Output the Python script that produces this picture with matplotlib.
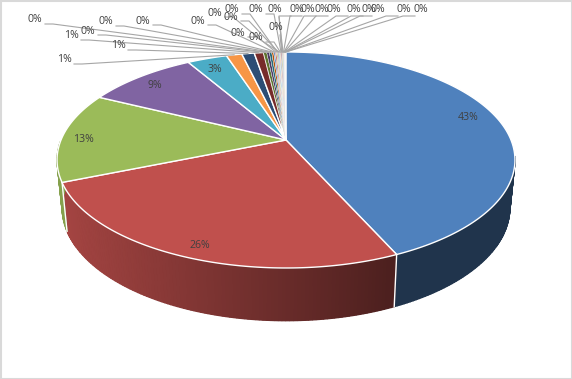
import numpy as np
import matplotlib
matplotlib.use("Agg")
import matplotlib.pyplot as plt

plt.rcParams["font.family"] = ["Open Sans", "DejaVu Sans"]

# share of each slice, clockwise from 12 o'clock
values = [43.25, 25.5, 13.45, 9.3, 3.36, 1.31, 1.05, 0.78, 0.27, 0.22, 0.2, 0.16, 0.13,
          0.12, 0.1, 0.09, 0.08, 0.07, 0.06, 0.06, 0.05, 0.05, 0.04, 0.04, 0.03, 0.03,
          0.03, 0.02, 0.02, 0.02]
labels = ["43%", "26%", "13%", "9%", "3%", "1%", "1%", "1%"] + ["0%"] * 22
colors = ["#4F81BD", "#C0504D", "#9BBB59", "#8064A2", "#4BACC6", "#F79646",
          "#2C4D75", "#772C2A", "#5F7530", "#4D3B62", "#276A7C", "#B65708",
          "#729ACA", "#CD7371", "#AFC97A", "#9983B5", "#6FBDD1", "#F9AA6B",
          "#3A679C", "#9E3B38", "#7E9C40", "#664F82", "#328DA6", "#D9802C",
          "#A9C3E0", "#E0ABAA", "#CDDDAC", "#C0B4D0", "#A8D8E6", "#FBCBA6"]

# label centres in pixels
inside_pos = [(468, 117), (200, 246), (83, 139), (155, 85), (215, 70)]
outside_pos = [(64, 60), (118, 46), (71, 36), (88, 31), (35, 20), (106, 22), (143, 21),
               (198, 21), (215, 13), (232, 10), (231, 17), (238, 33), (256, 38), (256, 10),
               (276, 28), (275, 10), (297, 10), (308, 10), (322, 10), (334, 10), (354, 10),
               (369, 10), (378, 10), (404, 10), (421, 10)]

CX = 286
K = 0.185


def top_xy(theta):
    u, v = np.sin(theta), np.cos(theta)
    d = 1 + K * v
    return CX + 225 * u / d, 140 - 104.3 * v / d


def bottom_xy(theta):
    u, v = np.sin(theta), np.cos(theta)
    d = 1 + K * v
    return CX + 220 * u / d, 187 - 109 * v / d


def shade(x, base):
    # side wall gets darker towards the right
    f = np.interp(x, [57, 390], [0.86, 0.4])
    rgb = np.array(matplotlib.colors.to_rgb(base))
    return tuple(rgb * f)


fig = plt.figure(figsize=(5.72, 3.79), dpi=100)
ax = fig.add_axes([0, 0, 1, 1])
ax.set_xlim(0, 572)
ax.set_ylim(379, 0)
ax.axis("off")

edges = np.cumsum([0] + values) / sum(values) * 2 * np.pi

# side wall, only the front part shows
for i in range(len(values)):
    a0, a1 = max(edges[i], 1.72), min(edges[i + 1], 4.7)
    if a1 <= a0:
        continue
    steps = max(2, int((a1 - a0) / np.radians(0.8)))
    t = np.linspace(a0, a1, steps + 1)
    # solid underlay so the strips leave no pale seams
    xt, yt = top_xy(t)
    xb, yb = bottom_xy(t)
    mid_x = np.median(xt)
    ax.fill(np.r_[xt, xb[::-1]], np.r_[yt, yb[::-1]], color=shade(mid_x, colors[i]), lw=0, zorder=1)
    for j in range(steps):
        c = shade((xt[j] + xt[j + 1]) / 2, colors[i])
        ax.fill([xt[j], xt[j + 1], xb[j + 1], xb[j]], [yt[j], yt[j + 1], yb[j + 1], yb[j]],
                color=c, lw=0.9, zorder=1.5)

# white seams on the wall
for a in (edges[1], edges[2]):
    xa, ya = top_xy(a)
    xb, yb = bottom_xy(a)
    ax.plot([xa, xb], [ya, yb], color="white", lw=1, zorder=2)

# top face
for i in range(len(values)):
    t = np.linspace(edges[i], edges[i + 1], max(3, int((edges[i + 1] - edges[i]) * 120)))
    xs, ys = top_xy(t)
    xs = np.concatenate([[CX], xs])
    ys = np.concatenate([[140], ys])
    lw = 1.0 if values[i] > 0.5 else 0.25
    ax.fill(xs, ys, facecolor=colors[i], edgecolor="white", lw=lw, zorder=3)

# labels on the slices
for i, (x, y) in enumerate(inside_pos):
    ax.text(x, y, labels[i], ha="center", va="center", fontsize=7.6, color="#404040", zorder=6)

# outside labels with leader lines
for i, (x, y) in enumerate(outside_pos):
    n = i + len(inside_pos)
    mid = (edges[n] + edges[n + 1]) / 2
    tx, ty = top_xy(mid)
    if x > CX:
        px = [x - 6, x - 18, tx]
        py = [y + 6, y + 6, ty]
    elif x > 265:
        px = [x + 4, tx]
        py = [y + 7, ty]
    else:
        px = [x + 10, x + 18, tx]
        py = [y + 4, y + 4, ty]
    ax.plot(px, py, color="#A6A6A6", lw=0.8, zorder=4)
    ax.text(x, y, labels[n], ha="center", va="center", fontsize=7.6, color="#404040", zorder=6)

# thin frame
ax.add_patch(plt.Rectangle((0.5, 0.5), 571, 378, fill=False, edgecolor="#D9D9D9", lw=1.5, zorder=7))

fig.savefig("out.png", dpi=100)
